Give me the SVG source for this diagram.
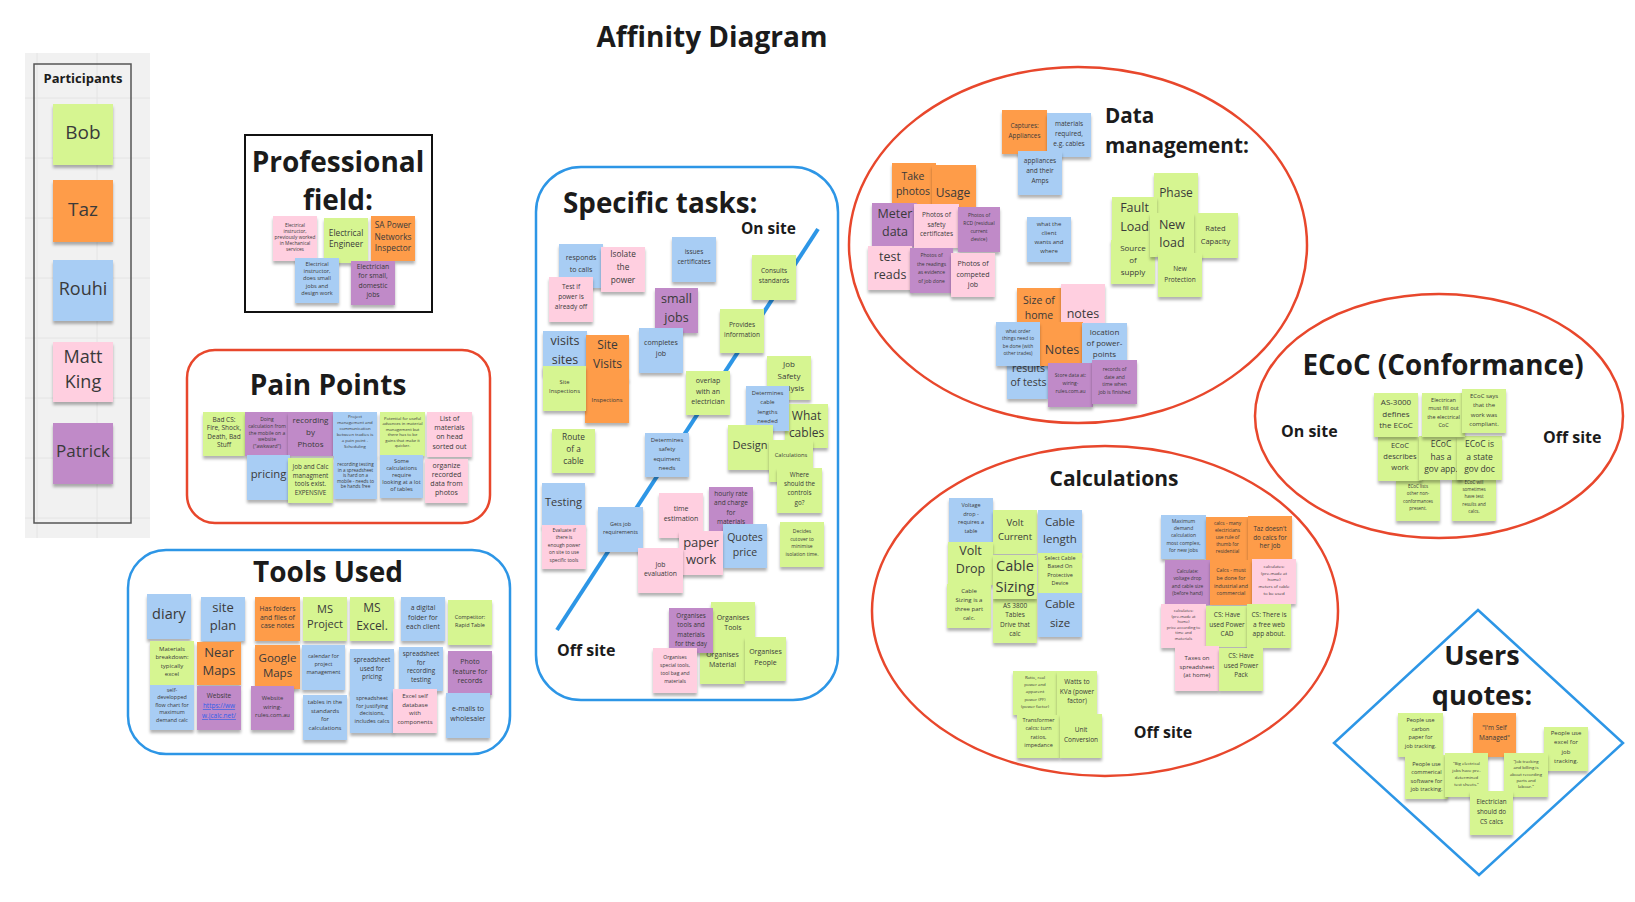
<svg xmlns="http://www.w3.org/2000/svg" width="1635" height="902" viewBox="0 0 1635 902">
<defs>
<filter id="sh" x="-20%" y="-20%" width="140%" height="160%">
<feDropShadow dx="0" dy="3" stdDeviation="1.8" flood-color="#000" flood-opacity="0.3"/>
</filter>
<style>
.n{filter:url(#sh)}
.g{fill:#d6f591}.o{fill:#fe9c4a}.b{fill:#a8cdf4}.p{fill:#ffcfe0}.u{fill:#c08ac8}
.t{font-family:"Open Sans","Noto Sans",sans-serif;fill:#3a3a3a;text-anchor:middle}
.h{font-family:"Open Sans","Noto Sans",sans-serif;font-weight:700;fill:#1b1b1b;text-anchor:middle}
.hl{font-family:"Open Sans","Noto Sans",sans-serif;font-weight:700;fill:#1b1b1b}
.red{fill:#fff;stroke:#e8472c;stroke-width:2.5}
.blue{fill:#fff;stroke:#2d96e6;stroke-width:2.5}
.lnk{fill:#2f5fe8;text-decoration:underline}
.grid{stroke:#e4e4e4;stroke-width:1}
</style>
</defs>
<rect width="1635" height="902" fill="#fff"/>

<!-- page heading -->
<text class="h" x="712" y="47" font-size="28">Affinity Diagram</text>

<!-- participants panel -->
<g id="participants">
<rect x="25" y="53" width="125" height="485" fill="#f1f1f1"/>
<g class="grid">
<line x1="37" y1="53" x2="37" y2="538"/><line x1="97" y1="53" x2="97" y2="538"/>
<line x1="25" y1="98" x2="150" y2="98"/><line x1="25" y1="158" x2="150" y2="158"/><line x1="25" y1="218" x2="150" y2="218"/>
<line x1="25" y1="278" x2="150" y2="278"/><line x1="25" y1="338" x2="150" y2="338"/><line x1="25" y1="398" x2="150" y2="398"/>
<line x1="25" y1="458" x2="150" y2="458"/><line x1="25" y1="518" x2="150" y2="518"/>
</g>
<rect x="34" y="64" width="97" height="459" fill="none" stroke="#555" stroke-width="1.5"/>
<text class="h" x="83" y="83" font-size="13" fill="#1e2a3a">Participants</text>
<g id="n-bob"><rect class="n g" x="53" y="104" width="60" height="61"/><text class="t" x="83" y="139" font-size="19">Bob</text></g>
<g id="n-taz"><rect class="n o" x="53" y="180" width="60" height="62"/><text class="t" x="83" y="216" font-size="19">Taz</text></g>
<g id="n-rouhi"><rect class="n b" x="53" y="260" width="60" height="61"/><text class="t" x="83" y="295" font-size="18">Rouhi</text></g>
<g id="n-matt"><rect class="n p" x="53" y="342" width="60" height="60"/><text class="t" x="83" y="363" font-size="18"><tspan x="83">Matt</tspan><tspan x="83" dy="25">King</tspan></text></g>
<g id="n-patrick"><rect class="n u" x="53" y="423" width="60" height="61"/><text class="t" x="83" y="457" font-size="17">Patrick</text></g>
</g>

<!-- professional field -->
<g id="professional-field">
<rect x="245" y="135" width="187" height="177" fill="#fff" stroke="#111" stroke-width="2"/>
<text class="h" x="338" y="172" font-size="28">Professional</text>
<text class="h" x="338" y="210" font-size="28">field:</text>
<g id="pf-1"><rect class="n p" x="273" y="216" width="44" height="45"/><text class="t" x="295" y="227" font-size="4.8"><tspan x="295">Electrical</tspan><tspan x="295" dy="6">instructor,</tspan><tspan x="295" dy="6">previously worked</tspan><tspan x="295" dy="6">in Mechanical</tspan><tspan x="295" dy="6">services</tspan></text></g>
<g id="pf-2"><rect class="n g" x="324" y="218" width="44" height="45"/><text class="t" x="346" y="236" font-size="8.3"><tspan x="346">Electrical</tspan><tspan x="346" dy="11">Engineer</tspan></text></g>
<g id="pf-3"><rect class="n o" x="371" y="216" width="44" height="45"/><text class="t" x="393" y="228" font-size="8.3"><tspan x="393">SA Power</tspan><tspan x="393" dy="11.5">Networks</tspan><tspan x="393" dy="11.5">Inspector</tspan></text></g>
<g id="pf-4"><rect class="n b" x="295" y="258" width="44" height="45"/><text class="t" x="317" y="266" font-size="5.6"><tspan x="317">Electrical</tspan><tspan x="317" dy="7.2">instructor,</tspan><tspan x="317" dy="7.2">does small</tspan><tspan x="317" dy="7.2">jobs and</tspan><tspan x="317" dy="7.2">design work</tspan></text></g>
<g id="pf-5"><rect class="n u" x="351" y="261" width="44" height="44"/><text class="t" x="373" y="269" font-size="6.8"><tspan x="373">Electrician</tspan><tspan x="373" dy="9.3">for small,</tspan><tspan x="373" dy="9.3">domestic</tspan><tspan x="373" dy="9.3">jobs</tspan></text></g>
</g>

<!-- pain points -->
<g id="pain-points">
<rect class="red" x="187" y="350" width="303" height="173" rx="28"/>
<text class="h" x="328" y="395" font-size="28">Pain Points</text>
<g id="pp-1"><rect class="n g" x="203" y="412" width="42" height="44"/><text class="t" x="224" y="422" font-size="6.5"><tspan x="224">Bad CS:</tspan><tspan x="224" dy="8.3">Fire, Shock,</tspan><tspan x="224" dy="8.3">Death, Bad</tspan><tspan x="224" dy="8.3">Stuff</tspan></text></g>
<g id="pp-2"><rect class="n u" x="245" y="412" width="44" height="44"/><text class="t" x="267" y="421" font-size="5"><tspan x="267">Doing</tspan><tspan x="267" dy="6.8">calculation from</tspan><tspan x="267" dy="6.8">the mobile on a</tspan><tspan x="267" dy="6.8">website</tspan><tspan x="267" dy="6.8">("awkward")</tspan></text></g>
<g id="pp-3"><rect class="n u" x="288" y="412" width="45" height="44"/><text class="t" x="310.5" y="423" font-size="8"><tspan x="310.5">recording</tspan><tspan x="310.5" dy="12">by</tspan><tspan x="310.5" dy="12">Photos</tspan></text></g>
<g id="pp-4"><rect class="n b" x="333" y="412" width="44" height="44"/><text class="t" x="355" y="418" font-size="4.3"><tspan x="355">Project</tspan><tspan x="355" dy="6">management and</tspan><tspan x="355" dy="6">communication</tspan><tspan x="355" dy="6">between tradies is</tspan><tspan x="355" dy="6">a pain point -</tspan><tspan x="355" dy="6">Scheduling</tspan></text></g>
<g id="pp-5"><rect class="n g" x="380" y="412" width="45" height="44"/><text class="t" x="402.5" y="420" font-size="4.2"><tspan x="402.5">Potential for useful</tspan><tspan x="402.5" dy="5.4">advances in material</tspan><tspan x="402.5" dy="5.4">management but</tspan><tspan x="402.5" dy="5.4">there has to be</tspan><tspan x="402.5" dy="5.4">gains that make it</tspan><tspan x="402.5" dy="5.4">quicker.</tspan></text></g>
<g id="pp-6"><rect class="n p" x="427" y="412" width="45" height="45"/><text class="t" x="449.5" y="421" font-size="7"><tspan x="449.5">List of</tspan><tspan x="449.5" dy="9.2">materials</tspan><tspan x="449.5" dy="9.2">on head</tspan><tspan x="449.5" dy="9.2">sorted out</tspan></text></g>
<g id="pp-7"><rect class="n b" x="247" y="455" width="43" height="45"/><text class="t" x="268.5" y="478" font-size="11.3">pricing</text></g>
<g id="pp-8"><rect class="n g" x="288" y="458" width="45" height="45"/><text class="t" x="310.5" y="469" font-size="6.3"><tspan x="310.5">Job and Calc</tspan><tspan x="310.5" dy="8.7">managment</tspan><tspan x="310.5" dy="8.7">tools exist.</tspan><tspan x="310.5" dy="8.7">EXPENSIVE</tspan></text></g>
<g id="pp-9"><rect class="n b" x="334" y="455" width="43" height="44"/><text class="t" x="355.5" y="466" font-size="4.6"><tspan x="355.5">recording testing</tspan><tspan x="355.5" dy="5.6">in a spreadsheet</tspan><tspan x="355.5" dy="5.6">is hard on a</tspan><tspan x="355.5" dy="5.6">mobile - needs to</tspan><tspan x="355.5" dy="5.6">be hands free</tspan></text></g>
<g id="pp-10"><rect class="n b" x="380" y="455" width="43" height="43"/><text class="t" x="401.5" y="463" font-size="5.6"><tspan x="401.5">Some</tspan><tspan x="401.5" dy="7">calculations</tspan><tspan x="401.5" dy="7">require</tspan><tspan x="401.5" dy="7">looking at a lot</tspan><tspan x="401.5" dy="7">of tables</tspan></text></g>
<g id="pp-11"><rect class="n p" x="425" y="459" width="43" height="44"/><text class="t" x="446.5" y="468" font-size="7"><tspan x="446.5">organize</tspan><tspan x="446.5" dy="9">recorded</tspan><tspan x="446.5" dy="9">data from</tspan><tspan x="446.5" dy="9">photos</tspan></text></g>
</g>

<!-- tools used -->
<g id="tools-used">
<rect class="blue" x="128" y="550" width="382" height="204" rx="38"/>
<text class="h" x="328" y="582" font-size="28">Tools Used</text>
<g id="tu-diary"><rect class="n b" x="147" y="594" width="44" height="45"/><text class="t" x="169" y="619" font-size="14.5">diary</text></g>
<g id="tu-site-plan"><rect class="n b" x="201" y="597" width="44" height="44"/><text class="t" x="223" y="612" font-size="13"><tspan x="223">site</tspan><tspan x="223" dy="18">plan</tspan></text></g>
<g id="tu-folders"><rect class="n o" x="255" y="597" width="45" height="44"/><text class="t" x="277.5" y="611" font-size="6.8"><tspan x="277.5">Has folders</tspan><tspan x="277.5" dy="8.7">and files of</tspan><tspan x="277.5" dy="8.7">case notes</tspan></text></g>
<g id="tu-msproject"><rect class="n g" x="303" y="597" width="44" height="44"/><text class="t" x="325" y="613" font-size="11"><tspan x="325">MS</tspan><tspan x="325" dy="15">Project</tspan></text></g>
<g id="tu-msexcel"><rect class="n g" x="350" y="597" width="44" height="44"/><text class="t" x="372" y="612" font-size="12"><tspan x="372">MS</tspan><tspan x="372" dy="18">Excel.</tspan></text></g>
<g id="tu-digital-folder"><rect class="n b" x="401" y="597" width="44" height="44"/><text class="t" x="423" y="610" font-size="6.8"><tspan x="423">a digital</tspan><tspan x="423" dy="9.5">folder for</tspan><tspan x="423" dy="9.5">each client</tspan></text></g>
<g id="tu-competitor"><rect class="n g" x="448" y="600" width="44" height="45"/><text class="t" x="470" y="619" font-size="5.5"><tspan x="470">Competitor:</tspan><tspan x="470" dy="8">Rapid Table</tspan></text></g>
<g id="tu-materials"><rect class="n g" x="150" y="641" width="44" height="44"/><text class="t" x="172" y="651" font-size="6"><tspan x="172">Materials</tspan><tspan x="172" dy="8.3">breakdown:</tspan><tspan x="172" dy="8.3">typically</tspan><tspan x="172" dy="8.3">excel</tspan></text></g>
<g id="tu-nearmaps"><rect class="n o" x="197" y="642" width="44" height="43"/><text class="t" x="219" y="657" font-size="13"><tspan x="219">Near</tspan><tspan x="219" dy="18">Maps</tspan></text></g>
<g id="tu-googlemaps"><rect class="n o" x="255" y="645" width="45" height="44"/><text class="t" x="277.5" y="662" font-size="11.5"><tspan x="277.5">Google</tspan><tspan x="277.5" dy="15">Maps</tspan></text></g>
<g id="tu-calendar"><rect class="n b" x="302" y="645" width="43" height="45"/><text class="t" x="323.5" y="658" font-size="5.5"><tspan x="323.5">calendar for</tspan><tspan x="323.5" dy="8">project</tspan><tspan x="323.5" dy="8">management</tspan></text></g>
<g id="tu-pricing-sheet"><rect class="n b" x="350" y="649" width="44" height="44"/><text class="t" x="372" y="662" font-size="6.3"><tspan x="372">spreadsheet</tspan><tspan x="372" dy="8.5">used for</tspan><tspan x="372" dy="8.5">pricing</tspan></text></g>
<g id="tu-testing-sheet"><rect class="n b" x="399" y="647" width="44" height="44"/><text class="t" x="421" y="656" font-size="6.3"><tspan x="421">spreadsheet</tspan><tspan x="421" dy="8.7">for</tspan><tspan x="421" dy="8.7">recording</tspan><tspan x="421" dy="8.7">testing</tspan></text></g>
<g id="tu-photo"><rect class="n u" x="448" y="651" width="44" height="44"/><text class="t" x="470" y="664" font-size="7"><tspan x="470">Photo</tspan><tspan x="470" dy="9.5">feature for</tspan><tspan x="470" dy="9.5">records</tspan></text></g>
<g id="tu-flowchart"><rect class="n b" x="150" y="685" width="44" height="45"/><text class="t" x="172" y="692" font-size="5.4"><tspan x="172">self-</tspan><tspan x="172" dy="7.4">developped</tspan><tspan x="172" dy="7.4">flow chart for</tspan><tspan x="172" dy="7.4">maximum</tspan><tspan x="172" dy="7.4">demand calc</tspan></text></g>
<g id="tu-jcalc"><rect class="n u" x="197" y="686" width="44" height="44"/><text class="t" x="219" y="698" font-size="6.5"><tspan x="219">Website</tspan><tspan class="lnk" x="219" dy="10">https://ww</tspan><tspan class="lnk" x="219" dy="10">w.jcalc.net/</tspan></text></g>
<g id="tu-wiring"><rect class="n u" x="251" y="686" width="43" height="44"/><text class="t" x="272.5" y="700" font-size="5.8"><tspan x="272.5">Website</tspan><tspan x="272.5" dy="8.5">wiring-</tspan><tspan x="272.5" dy="8.5">rules.com.au</tspan></text></g>
<g id="tu-tables"><rect class="n b" x="303" y="695" width="44" height="45"/><text class="t" x="325" y="704" font-size="6"><tspan x="325">tables in the</tspan><tspan x="325" dy="8.7">standards</tspan><tspan x="325" dy="8.7">for</tspan><tspan x="325" dy="8.7">calculations</tspan></text></g>
<g id="tu-justify"><rect class="n b" x="350" y="689" width="44" height="44"/><text class="t" x="372" y="700" font-size="5.5"><tspan x="372">spreadsheet</tspan><tspan x="372" dy="7.7">for justifying</tspan><tspan x="372" dy="7.7">decisions,</tspan><tspan x="372" dy="7.7">includes calcs</tspan></text></g>
<g id="tu-database"><rect class="n p" x="393" y="689" width="44" height="44"/><text class="t" x="415" y="698" font-size="6"><tspan x="415">Excel self</tspan><tspan x="415" dy="8.7">database</tspan><tspan x="415" dy="8.7">with</tspan><tspan x="415" dy="8.7">components</tspan></text></g>
<g id="tu-emails"><rect class="n b" x="446" y="693" width="44" height="45"/><text class="t" x="468" y="711" font-size="7"><tspan x="468">e-mails to</tspan><tspan x="468" dy="9.5">wholesaler</tspan></text></g>
</g>

<!-- specific tasks -->
<g id="specific-tasks">
<rect class="blue" x="536" y="167" width="302" height="533" rx="45"/>
<text class="hl" x="563" y="213" font-size="27.8">Specific tasks:</text>
<text class="hl" x="741" y="234" font-size="15.5">On site</text>
<text class="hl" x="557" y="656" font-size="16">Off site</text>
<g id="axis"><line x1="818" y1="229" x2="557" y2="630" stroke="#2d96e6" stroke-width="4"/></g>
<g id="st-responds"><rect class="n b" x="559" y="244" width="44" height="44"/><text class="t" x="581" y="260" font-size="7"><tspan x="581">responds</tspan><tspan x="581" dy="11.5">to calls</tspan></text></g>
<g id="st-isolate"><rect class="n p" x="601" y="247" width="44" height="45"/><text class="t" x="623" y="257" font-size="8.3"><tspan x="623">Isolate</tspan><tspan x="623" dy="12.8">the</tspan><tspan x="623" dy="12.8">power</tspan></text></g>
<g id="st-testpower"><rect class="n p" x="549" y="277" width="44" height="45"/><text class="t" x="571" y="289" font-size="6.5"><tspan x="571">Test if</tspan><tspan x="571" dy="10">power is</tspan><tspan x="571" dy="10">already off</tspan></text></g>
<g id="st-certificates"><rect class="n b" x="672" y="237" width="44" height="45"/><text class="t" x="694" y="254" font-size="6.5"><tspan x="694">issues</tspan><tspan x="694" dy="10">certificates</tspan></text></g>
<g id="st-smalljobs"><rect class="n u" x="655" y="288" width="43" height="45"/><text class="t" x="676.5" y="303" font-size="12.5"><tspan x="676.5">small</tspan><tspan x="676.5" dy="19">jobs</tspan></text></g>
<g id="st-consults"><rect class="n g" x="752" y="255" width="44" height="45"/><text class="t" x="774" y="273" font-size="6.5"><tspan x="774">Consults</tspan><tspan x="774" dy="10">standards</tspan></text></g>
<g id="st-provides"><rect class="n g" x="720" y="309" width="44" height="44"/><text class="t" x="742" y="327" font-size="6.5"><tspan x="742">Provides</tspan><tspan x="742" dy="9.5">information</tspan></text></g>
<g id="st-completes"><rect class="n b" x="639" y="328" width="44" height="45"/><text class="t" x="661" y="345" font-size="7"><tspan x="661">completes</tspan><tspan x="661" dy="11">job</tspan></text></g>
<g id="st-visits"><rect class="n b" x="543" y="331" width="44" height="44"/><text class="t" x="565" y="345" font-size="12.5"><tspan x="565">visits</tspan><tspan x="565" dy="18.5">sites</tspan></text></g>
<g id="st-sitevisits"><rect class="n o" x="586" y="335" width="43" height="45"/><text class="t" x="607.5" y="349" font-size="12"><tspan x="607.5">Site</tspan><tspan x="607.5" dy="19">Visits</tspan></text></g>
<g id="st-inspections"><rect class="n o" x="585" y="378" width="44" height="45"/><text class="t" x="607" y="402" font-size="5.8">Inspections</text></g>
<g id="st-siteinspections"><rect class="n g" x="543" y="366" width="43" height="45"/><text class="t" x="564.5" y="384" font-size="5.8"><tspan x="564.5">Site</tspan><tspan x="564.5" dy="9.3">Inspections</tspan></text></g>
<g id="st-overlap"><rect class="n g" x="686" y="371" width="44" height="44"/><text class="t" x="708" y="383" font-size="7"><tspan x="708">overlap</tspan><tspan x="708" dy="10.5">with an</tspan><tspan x="708" dy="10.5">electrician</tspan></text></g>
<g id="st-jsa"><rect class="n g" x="767" y="356" width="44" height="44"/><text class="t" x="789" y="367" font-size="8"><tspan x="789">Job</tspan><tspan x="789" dy="12">Safety</tspan><tspan x="789" dy="12">Analysis</tspan></text></g>
<g id="st-whatcables"><rect class="n g" x="785" y="404" width="43" height="44"/><text class="t" x="806.5" y="420" font-size="12"><tspan x="806.5">What</tspan><tspan x="806.5" dy="17">cables</tspan></text></g>
<g id="st-cablelengths"><rect class="n b" x="746" y="386" width="43" height="45"/><text class="t" x="767.5" y="395" font-size="5.8"><tspan x="767.5">Determines</tspan><tspan x="767.5" dy="9.3">cable</tspan><tspan x="767.5" dy="9.3">lengths</tspan><tspan x="767.5" dy="9.3">needed</tspan></text></g>
<g id="st-route"><rect class="n g" x="552" y="429" width="43" height="44"/><text class="t" x="573.5" y="440" font-size="8.3"><tspan x="573.5">Route</tspan><tspan x="573.5" dy="12">of a</tspan><tspan x="573.5" dy="12">cable</tspan></text></g>
<g id="st-safety"><rect class="n b" x="645" y="433" width="44" height="44"/><text class="t" x="667" y="442" font-size="6"><tspan x="667">Determines</tspan><tspan x="667" dy="9.3">safety</tspan><tspan x="667" dy="9.3">equiment</tspan><tspan x="667" dy="9.3">needs</tspan></text></g>
<g id="st-design"><rect class="n g" x="728" y="425" width="45" height="45"/><text class="t" x="750" y="449" font-size="11">Design</text></g>
<g id="st-calculations"><rect class="n g" x="769" y="440" width="44" height="42"/><text class="t" x="791" y="457" font-size="5.8">Calculations</text></g>
<g id="st-controls"><rect class="n g" x="777" y="468" width="45" height="45"/><text class="t" x="799.5" y="477" font-size="6.3"><tspan x="799.5">Where</tspan><tspan x="799.5" dy="9.2">should the</tspan><tspan x="799.5" dy="9.2">controls</tspan><tspan x="799.5" dy="9.2">go?</tspan></text></g>
<g id="st-testing"><rect class="n b" x="542" y="483" width="43" height="44"/><text class="t" x="563.5" y="506" font-size="11">Testing</text></g>
<g id="st-evaluate"><rect class="n p" x="542" y="525" width="44" height="44"/><text class="t" x="564" y="532" font-size="4.8"><tspan x="564">Evaluate if</tspan><tspan x="564" dy="7.4">there is</tspan><tspan x="564" dy="7.4">enough power</tspan><tspan x="564" dy="7.4">on site to use</tspan><tspan x="564" dy="7.4">specific tools</tspan></text></g>
<g id="st-requirements"><rect class="n b" x="598" y="507" width="45" height="45"/><text class="t" x="620.5" y="526" font-size="5.5"><tspan x="620.5">Gets job</tspan><tspan x="620.5" dy="7.5">requirements</tspan></text></g>
<g id="st-time"><rect class="n p" x="659" y="493" width="44" height="45"/><text class="t" x="681" y="511" font-size="7"><tspan x="681">time</tspan><tspan x="681" dy="10">estimation</tspan></text></g>
<g id="st-hourly"><rect class="n u" x="709" y="487" width="44" height="45"/><text class="t" x="731" y="496" font-size="6.5"><tspan x="731">hourly rate</tspan><tspan x="731" dy="9.3">and charge</tspan><tspan x="731" dy="9.3">for</tspan><tspan x="731" dy="9.3">materials</tspan></text></g>
<g id="st-quotes"><rect class="n b" x="723" y="524" width="44" height="44"/><text class="t" x="745" y="541" font-size="10.5"><tspan x="745">Quotes</tspan><tspan x="745" dy="14.5">price</tspan></text></g>
<g id="st-paperwork"><rect class="n p" x="679" y="531" width="44" height="44"/><text class="t" x="701" y="547" font-size="13"><tspan x="701">paper</tspan><tspan x="701" dy="16.5">work</tspan></text></g>
<g id="st-jobeval"><rect class="n p" x="638" y="548" width="45" height="45"/><text class="t" x="660.5" y="567" font-size="6.8"><tspan x="660.5">Job</tspan><tspan x="660.5" dy="9.3">evaluation</tspan></text></g>
<g id="st-cutover"><rect class="n g" x="780" y="522" width="44" height="45"/><text class="t" x="802" y="533" font-size="5"><tspan x="802">Decides</tspan><tspan x="802" dy="7.7">cutover to</tspan><tspan x="802" dy="7.7">minimise</tspan><tspan x="802" dy="7.7">isolation time.</tspan></text></g>
<g id="st-org-tools"><rect class="n g" x="711" y="602" width="44" height="45"/><text class="t" x="733" y="620" font-size="7"><tspan x="733">Organises</tspan><tspan x="733" dy="10">Tools</tspan></text></g>
<g id="st-org-material"><rect class="n g" x="700" y="640" width="45" height="44"/><text class="t" x="722.5" y="657" font-size="7"><tspan x="722.5">Organises</tspan><tspan x="722.5" dy="10">Material</tspan></text></g>
<g id="st-org-people"><rect class="n g" x="745" y="637" width="41" height="44"/><text class="t" x="765.5" y="654" font-size="7"><tspan x="765.5">Organises</tspan><tspan x="765.5" dy="10.5">People</tspan></text></g>
<g id="st-org-day"><rect class="n u" x="669" y="608" width="44" height="45"/><text class="t" x="691" y="618" font-size="6.3"><tspan x="691">Organises</tspan><tspan x="691" dy="9.3">tools and</tspan><tspan x="691" dy="9.3">materials</tspan><tspan x="691" dy="9.3">for the day</tspan></text></g>
<g id="st-org-special"><rect class="n p" x="653" y="648" width="44" height="45"/><text class="t" x="675" y="659" font-size="5"><tspan x="675">Organises</tspan><tspan x="675" dy="8">special tools,</tspan><tspan x="675" dy="8">tool bag and</tspan><tspan x="675" dy="8">materials</tspan></text></g>
</g>

<!-- data management -->
<g id="data-management">
<ellipse class="red" cx="1078" cy="245" rx="229" ry="178"/>
<text class="hl" x="1105" y="123" font-size="20.7">Data</text>
<text class="hl" x="1105" y="153" font-size="20.7">management:</text>
<g id="dm-captures"><rect class="n o" x="1002" y="110" width="45" height="44"/><text class="t" x="1024.5" y="128" font-size="6.3"><tspan x="1024.5">Captures:</tspan><tspan x="1024.5" dy="10">Appliances</tspan></text></g>
<g id="dm-materials"><rect class="n b" x="1047" y="113" width="44" height="44"/><text class="t" x="1069" y="126" font-size="6.5"><tspan x="1069">materials</tspan><tspan x="1069" dy="10">required,</tspan><tspan x="1069" dy="10">e.g. cables</tspan></text></g>
<g id="dm-appliances"><rect class="n b" x="1018" y="151" width="44" height="44"/><text class="t" x="1040" y="163" font-size="6.5"><tspan x="1040">appliances</tspan><tspan x="1040" dy="10">and their</tspan><tspan x="1040" dy="10">Amps</tspan></text></g>
<g id="dm-takephotos"><rect class="n o" x="892" y="163" width="44" height="44"/><text class="t" x="913" y="180" font-size="10.5"><tspan x="913">Take</tspan><tspan x="913" dy="15">photos</tspan></text></g>
<g id="dm-usage"><rect class="n o" x="932" y="165" width="44" height="44"/><text class="t" x="953" y="197" font-size="12">Usage</text></g>
<g id="dm-meter"><rect class="n u" x="872" y="203" width="45" height="44"/><text class="t" x="895" y="218" font-size="12.5"><tspan x="895">Meter</tspan><tspan x="895" dy="18">data</tspan></text></g>
<g id="dm-safetycerts"><rect class="n p" x="914" y="204" width="45" height="44"/><text class="t" x="936.5" y="217" font-size="6.5"><tspan x="936.5">Photos of</tspan><tspan x="936.5" dy="9.5">safety</tspan><tspan x="936.5" dy="9.5">certificates</tspan></text></g>
<g id="dm-rcd"><rect class="n u" x="958" y="207" width="42" height="45"/><text class="t" x="979" y="217" font-size="5"><tspan x="979">Photos of</tspan><tspan x="979" dy="8">RCD (residual</tspan><tspan x="979" dy="8">current</tspan><tspan x="979" dy="8">device)</tspan></text></g>
<g id="dm-testreads"><rect class="n p" x="868" y="246" width="44" height="44"/><text class="t" x="890" y="261" font-size="12.5"><tspan x="890">test</tspan><tspan x="890" dy="18">reads</tspan></text></g>
<g id="dm-readings"><rect class="n u" x="910" y="248" width="43" height="45"/><text class="t" x="931.5" y="257" font-size="5"><tspan x="931.5">Photos of</tspan><tspan x="931.5" dy="8.5">the readings</tspan><tspan x="931.5" dy="8.5">as evidence</tspan><tspan x="931.5" dy="8.5">of job done</tspan></text></g>
<g id="dm-completed"><rect class="n p" x="951" y="253" width="44" height="44"/><text class="t" x="973" y="266" font-size="7"><tspan x="973">Photos of</tspan><tspan x="973" dy="10.5">competed</tspan><tspan x="973" dy="10.5">job</tspan></text></g>
<g id="dm-client"><rect class="n b" x="1027" y="217" width="44" height="45"/><text class="t" x="1049" y="226" font-size="6"><tspan x="1049">what the</tspan><tspan x="1049" dy="9">client</tspan><tspan x="1049" dy="9">wants and</tspan><tspan x="1049" dy="9">where</tspan></text></g>
<g id="dm-phase"><rect class="n g" x="1154" y="173" width="44" height="44"/><text class="t" x="1176" y="197" font-size="12">Phase</text></g>
<g id="dm-faultload"><rect class="n g" x="1112" y="197" width="45" height="45"/><text class="t" x="1134.5" y="212" font-size="12.5"><tspan x="1134.5">Fault</tspan><tspan x="1134.5" dy="19">Load</tspan></text></g>
<g id="dm-rated"><rect class="n g" x="1193" y="213" width="45" height="45"/><text class="t" x="1215.5" y="231" font-size="7.5"><tspan x="1215.5">Rated</tspan><tspan x="1215.5" dy="12.5">Capacity</tspan></text></g>
<g id="dm-source"><rect class="n g" x="1111" y="240" width="44" height="44"/><text class="t" x="1133" y="251" font-size="8"><tspan x="1133">Source</tspan><tspan x="1133" dy="12">of</tspan><tspan x="1133" dy="12">supply</tspan></text></g>
<g id="dm-newload"><rect class="n g" x="1150" y="213" width="44" height="44"/><text class="t" x="1172" y="229" font-size="12.5"><tspan x="1172">New</tspan><tspan x="1172" dy="18">load</tspan></text></g>
<g id="dm-protection"><rect class="n g" x="1158" y="253" width="44" height="44"/><text class="t" x="1180" y="271" font-size="6.5"><tspan x="1180">New</tspan><tspan x="1180" dy="11">Protection</tspan></text></g>
<g id="dm-sizehome"><rect class="n o" x="1017" y="288" width="44" height="45"/><text class="t" x="1039" y="304" font-size="10.5"><tspan x="1039">Size of</tspan><tspan x="1039" dy="15">home</tspan></text></g>
<g id="dm-notes-pink"><rect class="n p" x="1061" y="284" width="44" height="44"/><text class="t" x="1083" y="318" font-size="12.5">notes</text></g>
<g id="dm-results"><rect class="n b" x="1007" y="355" width="41" height="44"/><text class="t" x="1028.5" y="372" font-size="10.5"><tspan x="1028.5">results</tspan><tspan x="1028.5" dy="13.5">of tests</tspan></text></g>
<g id="dm-notes-orange"><rect class="n o" x="1040" y="322" width="43" height="44"/><text class="t" x="1062" y="354" font-size="12.5">Notes</text></g>
<g id="dm-order"><rect class="n b" x="996" y="322" width="44" height="44"/><text class="t" x="1018" y="333" font-size="4.8"><tspan x="1018">what order</tspan><tspan x="1018" dy="7.3">things need to</tspan><tspan x="1018" dy="7.3">be done (with</tspan><tspan x="1018" dy="7.3">other trades)</tspan></text></g>
<g id="dm-location"><rect class="n b" x="1082" y="323" width="45" height="44"/><text class="t" x="1104.5" y="335" font-size="8"><tspan x="1104.5">location</tspan><tspan x="1104.5" dy="11">of power-</tspan><tspan x="1104.5" dy="11">points</tspan></text></g>
<g id="dm-store"><rect class="n u" x="1048" y="363" width="45" height="44"/><text class="t" x="1070.5" y="377" font-size="5"><tspan x="1070.5">Store data at:</tspan><tspan x="1070.5" dy="8">wiring-</tspan><tspan x="1070.5" dy="8">rules.com.au</tspan></text></g>
<g id="dm-records"><rect class="n u" x="1092" y="360" width="45" height="44"/><text class="t" x="1114.5" y="371" font-size="5"><tspan x="1114.5">records of</tspan><tspan x="1114.5" dy="7.7">date and</tspan><tspan x="1114.5" dy="7.7">time when</tspan><tspan x="1114.5" dy="7.7">job is finished</tspan></text></g>
</g>

<!-- ECoC -->
<g id="ecoc">
<ellipse class="red" cx="1439" cy="416" rx="184" ry="122"/>
<text class="h" x="1443" y="375" font-size="27.8">ECoC (Conformance)</text>
<text class="hl" x="1281" y="437" font-size="16">On site</text>
<text class="hl" x="1543" y="443" font-size="16">Off site</text>
<g id="ec-lists"><rect class="n g" x="1396" y="479" width="44" height="42"/><text class="t" x="1418" y="488" font-size="4.5"><tspan x="1418">ECoC lists</tspan><tspan x="1418" dy="7.3">other non-</tspan><tspan x="1418" dy="7.3">conformances</tspan><tspan x="1418" dy="7.3">present.</tspan></text></g>
<g id="ec-sometimes"><rect class="n g" x="1452" y="479" width="44" height="42"/><text class="t" x="1474" y="484" font-size="4.5"><tspan x="1474">ECoC will</tspan><tspan x="1474" dy="7.2">sometimes</tspan><tspan x="1474" dy="7.2">have test</tspan><tspan x="1474" dy="7.2">results and</tspan><tspan x="1474" dy="7.2">calcs.</tspan></text></g>
<g id="ec-describes"><rect class="n g" x="1378" y="437" width="44" height="44"/><text class="t" x="1400" y="448" font-size="7.5"><tspan x="1400">ECoC</tspan><tspan x="1400" dy="11">describes</tspan><tspan x="1400" dy="11">work</tspan></text></g>
<g id="ec-govapp"><rect class="n g" x="1419" y="436" width="44" height="44"/><text class="t" x="1441" y="447" font-size="8.5"><tspan x="1441">ECoC</tspan><tspan x="1441" dy="12.5">has a</tspan><tspan x="1441" dy="12.5">gov app.</tspan></text></g>
<g id="ec-statedoc"><rect class="n g" x="1457" y="436" width="45" height="44"/><text class="t" x="1479.5" y="447" font-size="8.5"><tspan x="1479.5">ECoC is</tspan><tspan x="1479.5" dy="12.5">a state</tspan><tspan x="1479.5" dy="12.5">gov doc</tspan></text></g>
<g id="ec-as3000"><rect class="n g" x="1374" y="393" width="44" height="44"/><text class="t" x="1396" y="405" font-size="8"><tspan x="1396">AS-3000</tspan><tspan x="1396" dy="11.5">defines</tspan><tspan x="1396" dy="11.5">the ECoC</tspan></text></g>
<g id="ec-fillout"><rect class="n g" x="1422" y="393" width="43" height="44"/><text class="t" x="1443.5" y="402" font-size="5.5"><tspan x="1443.5">Electrican</tspan><tspan x="1443.5" dy="8.3">must fill out</tspan><tspan x="1443.5" dy="8.3">the electrical</tspan><tspan x="1443.5" dy="8.3">CoC</tspan></text></g>
<g id="ec-compliant"><rect class="n g" x="1462" y="389" width="44" height="44"/><text class="t" x="1484" y="398" font-size="6"><tspan x="1484">ECoC says</tspan><tspan x="1484" dy="9.3">that the</tspan><tspan x="1484" dy="9.3">work was</tspan><tspan x="1484" dy="9.3">compliant.</tspan></text></g>
</g>

<!-- calculations -->
<g id="calculations">
<ellipse class="red" cx="1105" cy="611" rx="233" ry="165"/>
<text class="h" x="1114" y="486" font-size="21">Calculations</text>
<text class="h" x="1163" y="738" font-size="16">Off site</text>
<g id="ca-voltagedrop"><rect class="n b" x="949" y="498" width="44" height="45"/><text class="t" x="971" y="507" font-size="5.5"><tspan x="971">Voltage</tspan><tspan x="971" dy="8.7">drop -</tspan><tspan x="971" dy="8.7">requires a</tspan><tspan x="971" dy="8.7">table</tspan></text></g>
<g id="ca-voltcurrent"><rect class="n g" x="993" y="510" width="44" height="44"/><text class="t" x="1015" y="526" font-size="9.5"><tspan x="1015">Volt</tspan><tspan x="1015" dy="13.5">Current</tspan></text></g>
<g id="ca-cablelength"><rect class="n b" x="1038" y="510" width="44" height="44"/><text class="t" x="1060" y="526" font-size="11.5"><tspan x="1060">Cable</tspan><tspan x="1060" dy="17">length</tspan></text></g>
<g id="ca-voltdrop"><rect class="n g" x="948" y="542" width="45" height="43"/><text class="t" x="970.5" y="555" font-size="12.5"><tspan x="970.5">Volt</tspan><tspan x="970.5" dy="18">Drop</tspan></text></g>
<g id="ca-select"><rect class="n g" x="1038" y="553" width="44" height="40"/><text class="t" x="1060" y="560" font-size="5.5"><tspan x="1060">Select Cable</tspan><tspan x="1060" dy="8.3">Based On</tspan><tspan x="1060" dy="8.3">Protective</tspan><tspan x="1060" dy="8.3">Device</tspan></text></g>
<g id="ca-threepart"><rect class="n g" x="947" y="584" width="44" height="44"/><text class="t" x="969" y="593" font-size="6"><tspan x="969">Cable</tspan><tspan x="969" dy="9">Sizing is a</tspan><tspan x="969" dy="9">three part</tspan><tspan x="969" dy="9">calc.</tspan></text></g>
<g id="ca-as3800"><rect class="n g" x="993" y="599" width="44" height="44"/><text class="t" x="1015" y="608" font-size="6.5"><tspan x="1015">AS 3800</tspan><tspan x="1015" dy="9.3">Tables</tspan><tspan x="1015" dy="9.3">Drive that</tspan><tspan x="1015" dy="9.3">calc</tspan></text></g>
<g id="ca-cablesizing"><rect class="n g" x="993" y="555" width="44" height="44"/><text class="t" x="1015" y="571" font-size="14.5"><tspan x="1015">Cable</tspan><tspan x="1015" dy="21">Sizing</tspan></text></g>
<g id="ca-cablesize"><rect class="n b" x="1038" y="593" width="44" height="44"/><text class="t" x="1060" y="608" font-size="11.5"><tspan x="1060">Cable</tspan><tspan x="1060" dy="19">size</tspan></text></g>
<g id="ca-ratio"><rect class="n g" x="1013" y="671" width="44" height="44"/><text class="t" x="1035" y="679" font-size="4.3"><tspan x="1035">Ratio, real</tspan><tspan x="1035" dy="7.2">power and</tspan><tspan x="1035" dy="7.2">apparent</tspan><tspan x="1035" dy="7.2">power (PF)</tspan><tspan x="1035" dy="7.2">(power factor)</tspan></text></g>
<g id="ca-watts"><rect class="n g" x="1057" y="671" width="40" height="44"/><text class="t" x="1077" y="684" font-size="6.5"><tspan x="1077">Watts to</tspan><tspan x="1077" dy="9.5">KVa (power</tspan><tspan x="1077" dy="9.5">factor)</tspan></text></g>
<g id="ca-transformer"><rect class="n g" x="1017" y="715" width="43" height="43"/><text class="t" x="1038.5" y="722" font-size="5.5"><tspan x="1038.5">Transformer</tspan><tspan x="1038.5" dy="8.3">calcs: turn</tspan><tspan x="1038.5" dy="8.3">ratios,</tspan><tspan x="1038.5" dy="8.3">impedance</tspan></text></g>
<g id="ca-unit"><rect class="n g" x="1060" y="714" width="42" height="44"/><text class="t" x="1081" y="732" font-size="6.5"><tspan x="1081">Unit</tspan><tspan x="1081" dy="10">Conversion</tspan></text></g>
<g id="ca-maxdemand"><rect class="n b" x="1161" y="515" width="45" height="44"/><text class="t" x="1183.5" y="523" font-size="5"><tspan x="1183.5">Maximum</tspan><tspan x="1183.5" dy="7.2">demand</tspan><tspan x="1183.5" dy="7.2">calculation</tspan><tspan x="1183.5" dy="7.2">most complex,</tspan><tspan x="1183.5" dy="7.2">for new jobs</tspan></text></g>
<g id="ca-rulethumb"><rect class="n o" x="1206" y="517" width="43" height="44"/><text class="t" x="1227.5" y="525" font-size="4.8"><tspan x="1227.5">calcs - many</tspan><tspan x="1227.5" dy="7">electricians</tspan><tspan x="1227.5" dy="7">use rule of</tspan><tspan x="1227.5" dy="7">thumb for</tspan><tspan x="1227.5" dy="7">residential</tspan></text></g>
<g id="ca-taz"><rect class="n o" x="1248" y="516" width="44" height="45"/><text class="t" x="1270" y="531" font-size="6.3"><tspan x="1270">Taz doesn't</tspan><tspan x="1270" dy="8.5">do calcs for</tspan><tspan x="1270" dy="8.5">her job</tspan></text></g>
<g id="ca-calculate"><rect class="n u" x="1165" y="560" width="45" height="45"/><text class="t" x="1187.5" y="573" font-size="4.8"><tspan x="1187.5">Calculate:</tspan><tspan x="1187.5" dy="7.3">voltage drop</tspan><tspan x="1187.5" dy="7.3">and cable size</tspan><tspan x="1187.5" dy="7.3">(before hand)</tspan></text></g>
<g id="ca-industrial"><rect class="n o" x="1210" y="560" width="42" height="45"/><text class="t" x="1231" y="572" font-size="5.3"><tspan x="1231">Calcs - must</tspan><tspan x="1231" dy="7.8">be done for</tspan><tspan x="1231" dy="7.8">industrial and</tspan><tspan x="1231" dy="7.8">commercial</tspan></text></g>
<g id="ca-meters"><rect class="n p" x="1252" y="559" width="44" height="45"/><text class="t" x="1274" y="568" font-size="4.3"><tspan x="1274">calculates:</tspan><tspan x="1274" dy="6.7">(pre-made at</tspan><tspan x="1274" dy="6.7">home)</tspan><tspan x="1274" dy="6.7">meters of cable</tspan><tspan x="1274" dy="6.7">to be used</tspan></text></g>
<g id="ca-price"><rect class="n p" x="1161" y="604" width="45" height="44"/><text class="t" x="1183.5" y="612" font-size="4"><tspan x="1183.5">calculates:</tspan><tspan x="1183.5" dy="5.6">(pre-made at</tspan><tspan x="1183.5" dy="5.6">home)</tspan><tspan x="1183.5" dy="5.6">price according to</tspan><tspan x="1183.5" dy="5.6">time and</tspan><tspan x="1183.5" dy="5.6">materials</tspan></text></g>
<g id="ca-powercad"><rect class="n g" x="1206" y="606" width="42" height="41"/><text class="t" x="1227" y="617" font-size="6.5"><tspan x="1227">CS: Have</tspan><tspan x="1227" dy="9.5">used Power</tspan><tspan x="1227" dy="9.5">CAD</tspan></text></g>
<g id="ca-webapp"><rect class="n g" x="1247" y="604" width="44" height="44"/><text class="t" x="1269" y="617" font-size="6.5"><tspan x="1269">CS: There is</tspan><tspan x="1269" dy="9.5">a free web</tspan><tspan x="1269" dy="9.5">app about.</tspan></text></g>
<g id="ca-taxes"><rect class="n p" x="1175" y="646" width="44" height="45"/><text class="t" x="1197" y="660" font-size="6"><tspan x="1197">Taxes on</tspan><tspan x="1197" dy="8.5">spreadsheet</tspan><tspan x="1197" dy="8.5">(at home)</tspan></text></g>
<g id="ca-powerpack"><rect class="n g" x="1219" y="648" width="44" height="43"/><text class="t" x="1241" y="658" font-size="6.3"><tspan x="1241">CS: Have</tspan><tspan x="1241" dy="9.5">used Power</tspan><tspan x="1241" dy="9.5">Pack</tspan></text></g>
</g>

<!-- users quotes -->
<g id="users-quotes">
<polygon points="1478,610 1623,743 1479,875 1334,743" fill="#fff" stroke="#2d96e6" stroke-width="2.5"/>
<text class="h" x="1482" y="665" font-size="27">Users</text>
<text class="h" x="1482" y="705" font-size="27">quotes:</text>
<g id="uq-carbon"><rect class="n g" x="1398" y="713" width="45" height="44"/><text class="t" x="1420.5" y="722" font-size="5.5"><tspan x="1420.5">People use</tspan><tspan x="1420.5" dy="8.7">carbon</tspan><tspan x="1420.5" dy="8.7">paper for</tspan><tspan x="1420.5" dy="8.7">job tracking.</tspan></text></g>
<g id="uq-selfmanaged"><rect class="n o" x="1473" y="713" width="43" height="44"/><text class="t" x="1494.5" y="730" font-size="6.5"><tspan x="1494.5">"I'm Self</tspan><tspan x="1494.5" dy="10">Managed"</tspan></text></g>
<g id="uq-excel"><rect class="n g" x="1544" y="727" width="44" height="44"/><text class="t" x="1566" y="735" font-size="6"><tspan x="1566">People use</tspan><tspan x="1566" dy="9.3">excel for</tspan><tspan x="1566" dy="9.3">job</tspan><tspan x="1566" dy="9.3">tracking.</tspan></text></g>
<g id="uq-commercial"><rect class="n g" x="1405" y="755" width="43" height="44"/><text class="t" x="1426.5" y="766" font-size="5.6"><tspan x="1426.5">People use</tspan><tspan x="1426.5" dy="8.3">commerical</tspan><tspan x="1426.5" dy="8.3">software for</tspan><tspan x="1426.5" dy="8.3">job tracking.</tspan></text></g>
<g id="uq-testsheets"><rect class="n g" x="1445" y="753" width="43" height="44"/><text class="t" x="1466.5" y="765" font-size="4.3"><tspan x="1466.5">"Big electrical</tspan><tspan x="1466.5" dy="7">jobs have pre-</tspan><tspan x="1466.5" dy="7">determined</tspan><tspan x="1466.5" dy="7">test sheets."</tspan></text></g>
<g id="uq-billing"><rect class="n g" x="1504" y="753" width="44" height="44"/><text class="t" x="1526" y="763" font-size="4.3"><tspan x="1526">"Job tracking</tspan><tspan x="1526" dy="6.3">and billing is</tspan><tspan x="1526" dy="6.3">about recording</tspan><tspan x="1526" dy="6.3">parts and</tspan><tspan x="1526" dy="6.3">labour."</tspan></text></g>
<g id="uq-cscalcs"><rect class="n g" x="1470" y="791" width="43" height="44"/><text class="t" x="1491.5" y="804" font-size="6.3"><tspan x="1491.5">Electrician</tspan><tspan x="1491.5" dy="10">should do</tspan><tspan x="1491.5" dy="10">CS calcs</tspan></text></g>
</g>
</svg>
